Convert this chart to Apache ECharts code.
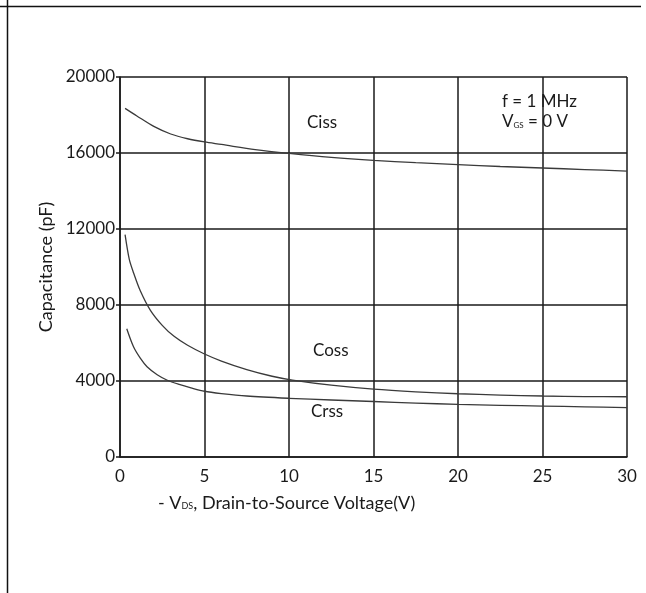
<!DOCTYPE html>
<html>
<head>
<meta charset="utf-8">
<title>Capacitance vs VDS</title>
<script src="https://cdn.jsdelivr.net/npm/echarts@6/dist/echarts.min.js"></script>
<style>
  html, body { margin: 0; padding: 0; background: #fff; }
  #chart { width: 646px; height: 593px; }
</style>
</head>
<body>
<div id="chart"></div>
<script>
// -VDS in volts / capacitance in pF
var vdsCiss = [0.3, 1, 2, 3, 4, 5, 6, 8, 10, 12.5, 15, 17.5, 20, 22.5, 25, 27.5, 30]
var ciss = [18350, 17950, 17400, 17000, 16750, 16580, 16450, 16180, 15980, 15770, 15610, 15490, 15390, 15290, 15210, 15130, 15050]

var vdsCoss = [0.3, 0.55, 0.8, 1.2, 1.8, 2.5, 3.2, 4, 5, 6, 7.5, 9, 10.2, 12.5, 15, 17.5, 20, 22.5, 25, 27.5, 30]
var coss = [11700, 10400, 9700, 8750, 7720, 6930, 6350, 5880, 5420, 5050, 4600, 4250, 4050, 3780, 3570, 3430, 3330, 3260, 3210, 3180, 3170]

var vdsCrss = [0.4, 0.8, 1.2, 1.6, 2.2, 2.8, 3.5, 4.2, 5, 6, 7.5, 10, 12.5, 15, 17.5, 20, 22.5, 25, 27.5, 30]
var crss = [6750, 5800, 5200, 4750, 4330, 4040, 3820, 3640, 3460, 3340, 3210, 3090, 3000, 2920, 2840, 2770, 2720, 2680, 2640, 2600]

var xTicks = [0, 5, 10, 15, 20, 25, 30]
var yTicks = [0, 4000, 8000, 12000, 16000, 20000]

var FONT = 'Lato'
var INK = '#1a1a1a'

function pairs(xs, ys) {
  return xs.map(function (x, i) { return [x, ys[i]] })
}

function curve(name, xs, ys) {
  return {
    name: name,
    type: 'line',
    data: pairs(xs, ys),
    smooth: 0.3,
    showSymbol: false,
    silent: true,
    lineStyle: { color: '#3a3a3a', width: 1.3 }
  }
}

var chart = echarts.init(document.getElementById('chart'))

chart.setOption({
  animation: false,
  backgroundColor: '#fff',
  grid: { left: 120, right: 19, top: 77, bottom: 136 },
  xAxis: {
    type: 'value',
    min: xTicks[0],
    max: xTicks[xTicks.length - 1],
    interval: 5,
    axisLine: { lineStyle: { color: INK, width: 1.5 } },
    axisTick: { show: false },
    axisLabel: { color: INK, fontFamily: FONT, fontSize: 17, margin: 11 },
    splitLine: { show: true, lineStyle: { color: INK, width: 1.5 } }
  },
  yAxis: {
    type: 'value',
    min: yTicks[0],
    max: yTicks[yTicks.length - 1],
    interval: 4000,
    name: 'Capacitance (pF)',
    nameLocation: 'middle',
    nameGap: 64,
    nameTextStyle: { color: INK, fontFamily: FONT, fontSize: 18 },
    axisLine: { show: true, lineStyle: { color: INK, width: 1.5 } },
    axisTick: { show: true, length: 4, lineStyle: { color: INK, width: 1.5 } },
    axisLabel: {
      color: INK, fontFamily: FONT, fontSize: 17, margin: 5,
      formatter: function (v) { return String(v) }
    },
    splitLine: { show: true, lineStyle: { color: INK, width: 1.5 } }
  },
  series: [
    curve('Ciss', vdsCiss, ciss),
    curve('Coss', vdsCoss, coss),
    curve('Crss', vdsCrss, crss)
  ],
  graphic: [
    // page frame lines from the datasheet
    { type: 'line', shape: { x1: 0, y1: 6.5, x2: 641, y2: 6.5 }, style: { stroke: '#111', lineWidth: 1.5 } },
    { type: 'line', shape: { x1: 7.5, y1: 0, x2: 7.5, y2: 593 }, style: { stroke: '#111', lineWidth: 1.5 } },
    // curve names
    { type: 'text', left: 307, top: 114, style: { text: 'Ciss', fill: INK, font: '17px ' + FONT } },
    { type: 'text', left: 313, top: 342, style: { text: 'Coss', fill: INK, font: '17px ' + FONT } },
    { type: 'text', left: 311, top: 403, style: { text: 'Crss', fill: INK, font: '17px ' + FONT } },
    // test conditions
    { type: 'text', left: 502, top: 93, style: { text: 'f = 1 MHz', fill: INK, font: '17px ' + FONT } },
    {
      type: 'text', left: 502, top: 113,
      style: {
        text: '{v|V}{s|GS}{v| = 0 V}',
        fill: INK,
        rich: {
          v: { fontFamily: FONT, fontSize: 17, fill: INK, verticalAlign: 'bottom' },
          s: { fontFamily: FONT, fontSize: 8, fill: INK, verticalAlign: 'bottom', padding: [0, 0, 1, 0] }
        }
      }
    },
    // x axis title
    {
      type: 'text', left: 158, top: 494,
      style: {
        text: '{v|- V}{s|DS}{v|, Drain-to-Source Voltage(V)}',
        fill: INK,
        rich: {
          v: { fontFamily: FONT, fontSize: 18, fill: INK, verticalAlign: 'bottom' },
          s: { fontFamily: FONT, fontSize: 9, fill: INK, verticalAlign: 'bottom', padding: [0, 0, 1, 0] }
        }
      }
    }
  ]
})

window.addEventListener('resize', function () {
  chart.resize()
})
</script>
</body>
</html>
